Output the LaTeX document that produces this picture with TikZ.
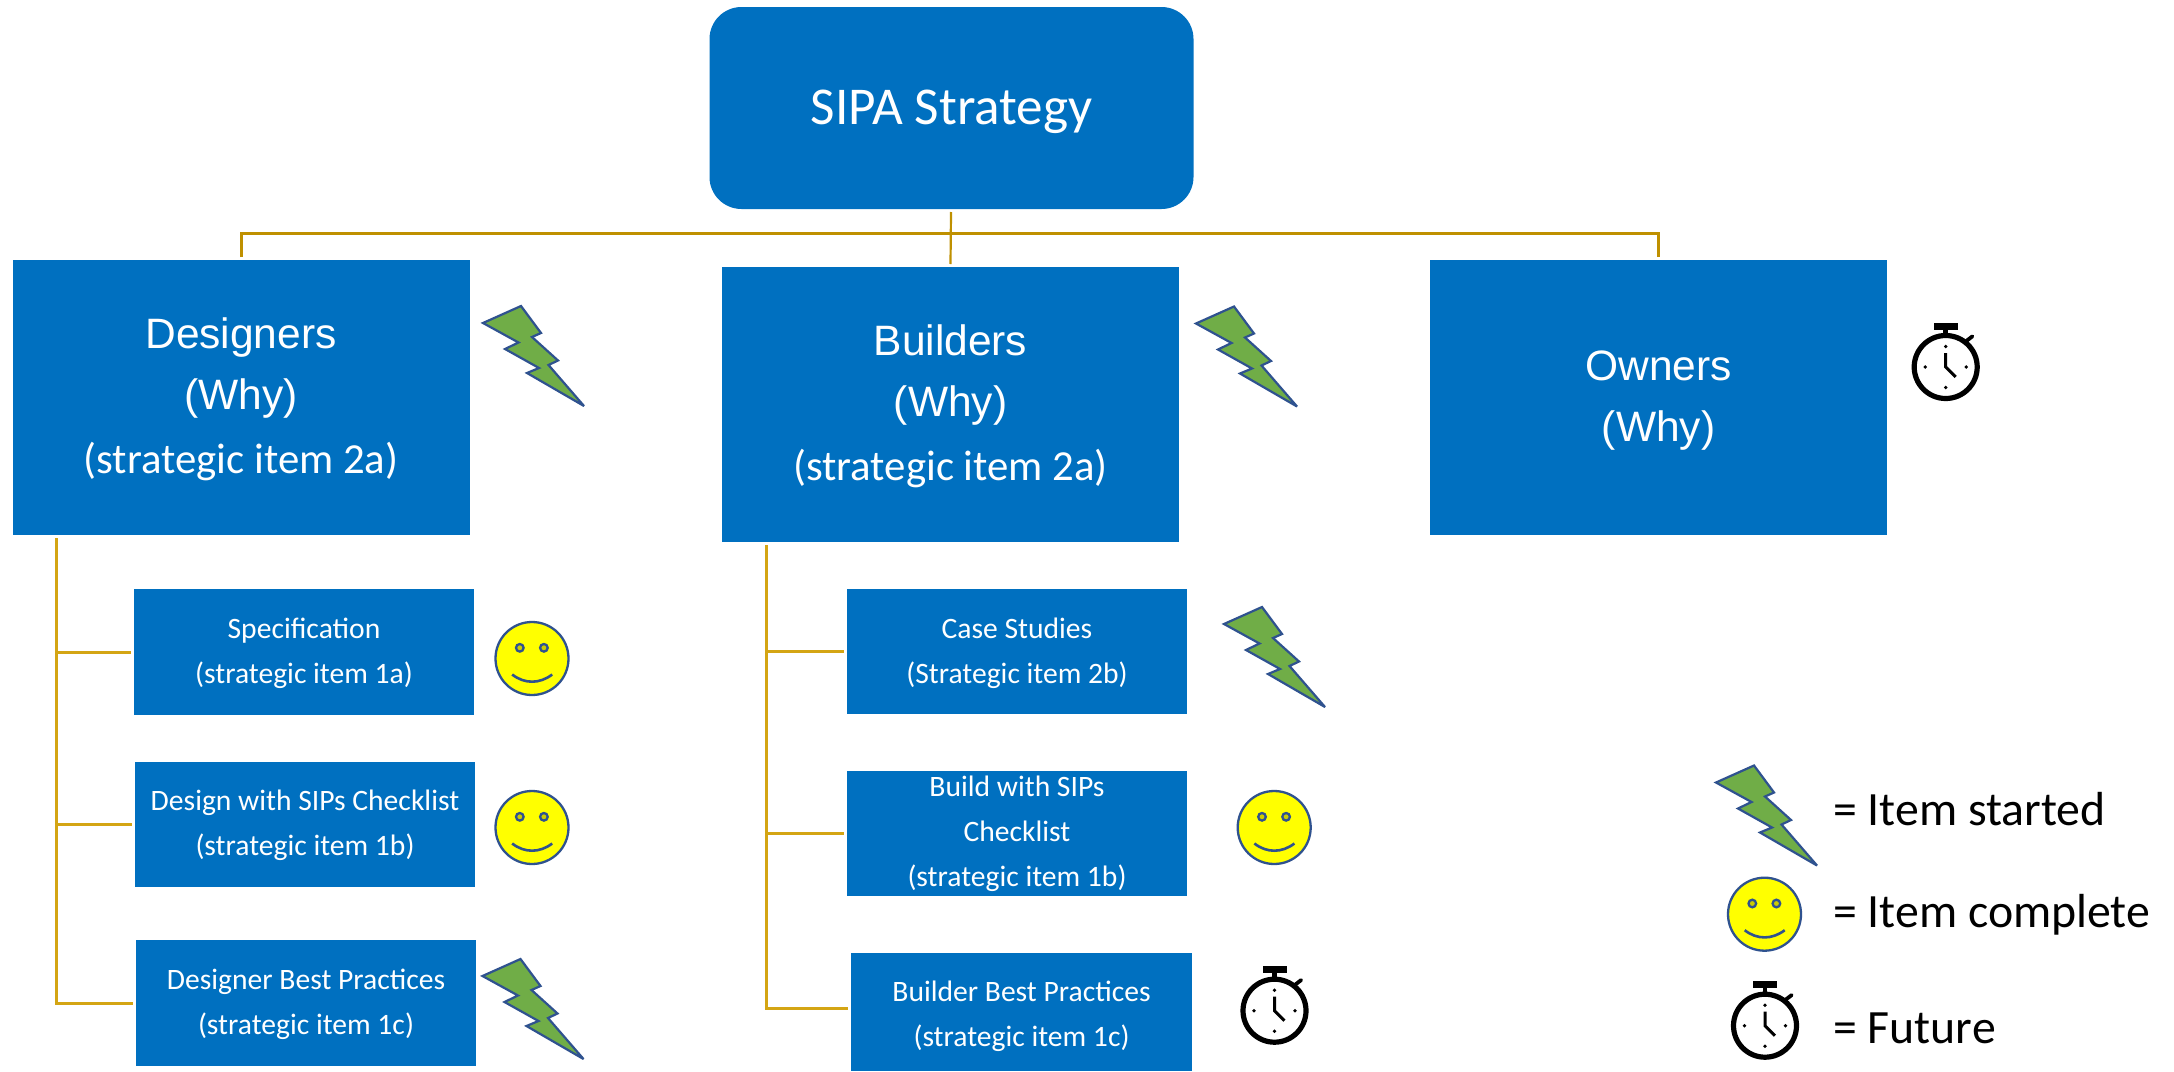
\documentclass[tikz,border=0pt]{standalone}
\usepackage{fontspec}
\setmainfont{Carlito}
\newfontfamily\arl{Liberation Sans}
\definecolor{boxblue}{HTML}{0070C0}
\definecolor{goldtop}{HTML}{BF9000}
\definecolor{goldlow}{HTML}{D4A514}
\definecolor{iconline}{HTML}{2F528F}
\definecolor{boltgreen}{HTML}{70AD47}
\definecolor{smileyfill}{HTML}{FFFF00}
\definecolor{eyefill}{HTML}{CCCC00}
\newcommand\boxlines[2]{\smash{\raisebox{#1pt}{\begin{tabular}[t]{@{}c@{}}#2\end{tabular}}}}
\newcommand\bigarl[1]{{\arl\fontsize{42.5}{42}\selectfont #1}}
\tikzset{
  x=1pt,y=-1pt,
  boxbase/.style={fill=boxblue,text=white,inner sep=0pt,outer sep=0pt,anchor=center},
  bigbox/.style={boxbase,minimum width=457pt,minimum height=275pt,font=\fontsize{42.8}{61}\selectfont},
  smallbox/.style={boxbase,minimum width=340pt,minimum height=126pt,font=\fontsize{29.6}{45}\selectfont},
  rootbox/.style={boxbase,rounded corners=32pt,minimum width=484pt,minimum height=202pt,font=\fontsize{53.2}{60}\selectfont},
  legendtext/.style={anchor=base west,inner sep=0pt,font=\fontsize{47.8}{50}\selectfont},
  topline/.style={draw=goldtop,line width=2.2pt},
  busline/.style={draw=goldtop,line width=3pt,line join=miter},
  lowline/.style={draw=goldlow,line width=3pt},
  boltshape/.pic={
    \draw[fill=boltgreen,draw=iconline,line width=2.2pt,line join=miter,miter limit=3]
      (0,17) -- (38,0) -- (58,27) -- (49,31) -- (75,54.5) -- (65.5,59) -- (101,100)
      -- (44,67) -- (56,62) -- (22,43) -- (35.5,36.5) -- cycle;
  },
  smileyshape/.pic={
    \draw[fill=smileyfill,draw=iconline,line width=2.3pt] (37.5,37.5) ellipse [x radius=36.5,y radius=36.5];
    \draw[fill=eyefill,draw=iconline,line width=2.3pt] (25.3,26.8) circle [radius=3.8];
    \draw[fill=eyefill,draw=iconline,line width=2.3pt] (49.4,26.8) circle [radius=3.8];
    \draw[draw=iconline,line width=2.6pt] (17.7,53.5) .. controls (30,63.1) and (45,63.1) .. (57.7,53.5);
  },
  watchshape/.pic={
    \draw[black,line width=5.2pt] (0,0) circle [radius=31.5];
    \fill[black] (-12,-44.5) rectangle (12,-37.5);
    \fill[black] (-2.4,-38) rectangle (2.4,-32);
    \draw[black,line width=3.8pt,line cap=round] (20,-25.5) -- (26.7,-30.7);
    \fill[black] (0,-20.5) circle [radius=1.9];
    \fill[black] (20.5,0) circle [radius=1.9];
    \fill[black] (0,20.5) circle [radius=1.9];
    \fill[black] (-20.5,0) circle [radius=1.9];
    \draw[black,line width=3pt] (0,-14) -- (0,0) -- (10,10);
  }
}
\begin{document}
\begin{tikzpicture}
\useasboundingbox (0,0) rectangle (2174,1071);
\fill[white] (0,0) rectangle (2174,1071);

% boxes
\node[rootbox] (root) at (951.5,108) {\boxlines{-16}{SIPA Strategy}};
\node[bigbox] (designers) at (241,397.5) {\boxlines{49}{\bigarl{Designers}\\\bigarl{(Why)}\\[3.2pt](strategic item 2a)}};
\node[bigbox] (builders) at (950.5,404.5) {\boxlines{48.9}{\bigarl{Builders}\\\bigarl{(Why)}\\[3.2pt](strategic item 2a)}};
\node[bigbox] (owners) at (1658.5,397.5) {\boxlines{17}{\bigarl{Owners}\\\bigarl{(Why)}}};

\node[smallbox] (spec) at (304,652) {\boxlines{14}{Specification\\(strategic item 1a)}};
\node[smallbox,minimum height=125pt] (design) at (305,824.5) {\boxlines{14}{Design with SIPs Checklist\\(strategic item 1b)}};
\node[smallbox] (dbp) at (306,1003) {\boxlines{14}{Designer Best Practices\\(strategic item 1c)}};
\node[smallbox,minimum height=125.4pt] (case) at (1017,651.7) {\boxlines{13.7}{Case Studies\\(Strategic item 2b)}};
\node[smallbox,minimum height=125pt] (build) at (1017,833.5) {\boxlines{37}{Build with SIPs\\Checklist\\(strategic item 1b)}};
\node[smallbox,minimum height=118pt,minimum width=341pt] (bbp) at (1021.5,1012) {\boxlines{11}{Builder Best Practices\\(strategic item 1c)}};

% connectors
\coordinate (busy) at (0,233);
\coordinate (rootdrop) at (951,212);
\coordinate (trunkD) at (56.7,538);
\coordinate (trunkB) at (766,545);
\draw[busline] ([yshift=3pt]designers.north) |- (busy -| owners.north) -- ([yshift=3pt]owners.north);
\draw[topline] (rootdrop) -- ([yshift=3pt]builders.north);
\draw[lowline] (trunkD) |- ([xshift=-3pt]dbp.west);
\draw[lowline] (trunkD |- spec.west) -- ([xshift=-3pt]spec.west);
\draw[lowline] (trunkD |- design.west) -- ([xshift=-3pt]design.west);
\draw[lowline] (trunkB) |- ([xshift=-3pt,yshift=3.5pt]bbp.west);
\draw[lowline] (trunkB |- case.west) -- ([xshift=-3pt]case.west);
\draw[lowline] (trunkB |- build.west) -- ([xshift=-3pt]build.west);

% icons
\pic at (483,306) {boltshape};
\pic at (1196,306.5) {boltshape};
\pic at (482.5,959) {boltshape};
\pic at (1224,607) {boltshape};
\pic at (1716,765.5) {boltshape};
\pic at (494.5,621) {smileyshape};
\pic at (494.5,790) {smileyshape};
\pic at (1236.7,790) {smileyshape};
\pic at (1727,876.7) {smileyshape};
\pic at (1945.7,367) {watchshape};
\pic at (1274.5,1010.7) {watchshape};
\pic at (1765,1025.7) {watchshape};

% legend
\node[legendtext] (lstart) at (1833,825) {= Item started};
\node[legendtext] (lcomp) at (1833,927.7) {= Item complete};
\node[legendtext] (lfut) at (1833,1043) {= Future};
\end{tikzpicture}
\end{document}
